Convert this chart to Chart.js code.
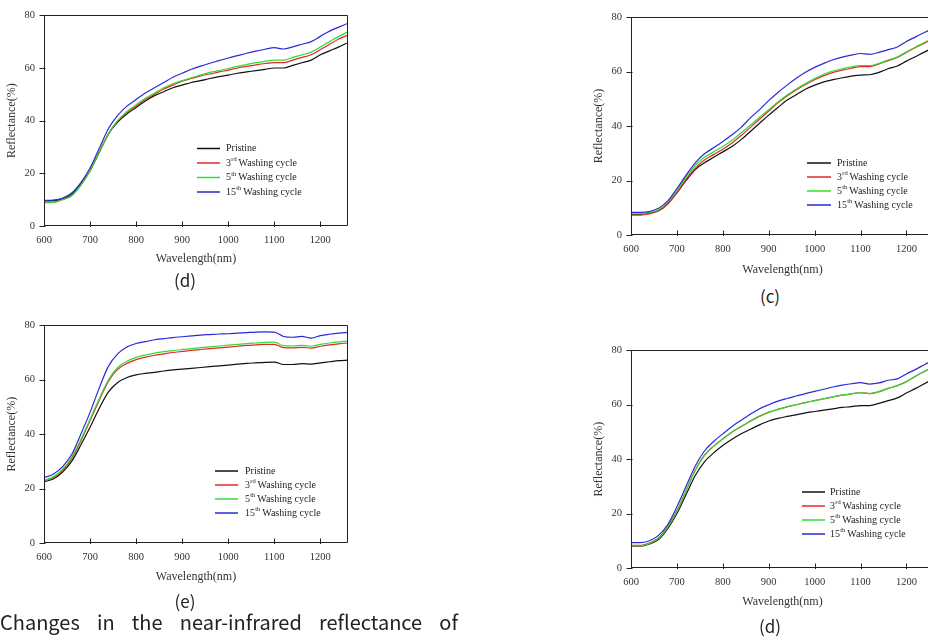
<!DOCTYPE html>
<html><head><meta charset="utf-8">
<script src="https://cdn.jsdelivr.net/npm/chart.js@4/dist/chart.umd.min.js"></script>
<style>
html,body{margin:0;padding:0;background:#fff;overflow:hidden;width:928px;height:637px;position:relative}
canvas{position:absolute}
.lab{position:absolute;font-family:"Noto Sans CJK KR","Noto Sans",sans-serif;font-size:17px;color:#222;transform:translate(-50%,-50%);line-height:1;white-space:nowrap}
#cap{position:absolute;left:0;top:612px;width:458px;display:flex;justify-content:space-between;font-family:"Noto Sans CJK KR","Noto Sans",sans-serif;font-size:20px;line-height:20px;color:#222;white-space:nowrap}
.pre{position:absolute;left:-1000px;top:0;font-family:"Liberation Serif";font-size:10px}
</style></head><body>
<span class="pre">Reflectance 0123456789</span>
<canvas id="c1" width="360" height="270" style="left:0px;top:0px"></canvas>
<canvas id="c2" width="363" height="281" style="left:587px;top:0px"></canvas>
<canvas id="c3" width="360" height="278" style="left:0px;top:310px"></canvas>
<canvas id="c4" width="363" height="278" style="left:587px;top:335px"></canvas>
<div class="lab" style="left:185px;top:279px">(d)</div>
<div class="lab" style="left:770px;top:295px">(c)</div>
<div class="lab" style="left:185px;top:600px">(e)</div>
<div class="lab" style="left:770px;top:625px">(d)</div>
<div id="cap"><span>Changes</span><span>in</span><span>the</span><span>near-infrared</span><span>reflectance</span><span>of</span></div>
<script>
// ---- data ----
const wavelengths = [600,620,640,660,680,700,720,740,760,780,800,820,840,860,880,900,920,940,960,980,1000,1020,1040,1060,1080,1100,1120,1140,1160,1180,1200,1220,1240,1260];
const seriesLabels = ["Pristine","3rd Washing cycle","5th Washing cycle","15th Washing cycle"];
const xTicks = [600,700,800,900,1000,1100,1200];
const yTicks = [0,20,40,60,80];
const panelTitles = ["(d)","(c)","(e)","(d)"];

// top-left panel (d)
const tlPristine = [9.5,9.6,10.3,12,16,21,28,35,39.5,42.5,45,47.5,49.5,51,52.5,53.5,54.5,55.2,56,56.7,57.3,58,58.5,59,59.5,60,60,61,62,63,65,66.5,68,69.7];
const tlWash3 = [9,9,10,11.5,15.5,21,28,35,40,43,45.5,48,50,52,53.5,55,56,57,57.7,58.5,59.2,60,60.6,61.2,61.7,62,62,63,64,65,67,69,71,72.5];
const tlWash5 = [8.8,9,10,11.5,15.5,21,28,35,40,43.5,46,48.5,50.5,52.5,54,55.2,56.3,57.3,58.3,59,59.8,60.6,61.3,62,62.5,63,63,64,65,66,68,70,72,73.7];
const tlWash15 = [9.7,9.8,10.5,12.5,16.5,22,29.5,37,42,45.5,48,50.5,52.5,54.5,56.5,58,59.5,60.7,61.8,62.8,63.8,64.7,65.6,66.4,67.1,67.7,67.2,68,69,70,72,74,75.5,77];

// top-right panel (c)
const trPristine = [7.5,7.6,8,9,11.5,15.5,20,24,26.5,28.5,30.5,32.5,35,38,41,44,46.8,49.5,51.5,53.5,55,56.2,57,57.7,58.3,58.7,58.8,59.7,61,62,63.8,65.5,67.2,69];
const trWash3 = [7.3,7.3,7.7,8.8,11.3,15.5,20.5,24.5,27.5,29.5,31.5,33.8,36.5,39.5,42.5,45.5,48.5,51,53.2,55.2,57,58.5,59.7,60.5,61.2,61.8,61.8,62.8,64,65.2,67,68.8,70.5,72.2];
const trWash5 = [7.8,7.8,8.2,9.3,12,16.3,21.3,25.5,28.5,30.5,32.5,34.8,37.5,40.3,43.2,46,48.8,51.4,53.6,55.6,57.4,59,60.2,61,61.7,62.2,62.2,63,64.2,65.3,67.2,69,70.7,72.5];
const trWash15 = [8.3,8.3,8.6,9.8,12.5,17,22,26.5,29.8,32,34.3,36.8,39.5,43,46,49.3,52.3,55,57.5,59.7,61.5,63,64.3,65.3,66,66.6,66.3,67,68,69,71,72.7,74.4,76];

// bottom-left panel (e)
const blPristine = [22.5,23.5,26,30,36,42.5,49.5,55.5,59,60.8,61.8,62.3,62.7,63.2,63.6,63.9,64.2,64.5,64.8,65.1,65.4,65.7,66,66.2,66.4,66.5,65.6,65.6,65.9,65.7,66.2,66.6,67,67.2];
const blWash3 = [22.8,24,26.5,31,37.5,45,52.5,59.5,63.8,66,67.4,68.3,69,69.5,70,70.4,70.8,71.1,71.4,71.7,72,72.3,72.6,72.8,73,73,71.8,71.7,71.9,71.6,72.3,72.8,73.2,73.5];
const blWash5 = [23,24.3,27,31.5,38,45.5,53,60,64.5,66.8,68.2,69.1,69.8,70.3,70.7,71.1,71.4,71.8,72.1,72.4,72.7,73,73.3,73.5,73.7,73.8,72.5,72.4,72.6,72.3,73,73.5,73.9,74.2];
const blWash15 = [24,25.3,28,32.5,40,48,57,65,69.5,72,73.3,74,74.7,75.1,75.5,75.8,76.1,76.4,76.6,76.8,76.9,77.1,77.3,77.5,77.6,77.5,75.9,75.6,75.9,75.3,76.2,76.7,77.1,77.4];

// bottom-right panel (d)
const brPristine = [8,8,8.8,10.5,14.5,20,27,34,39,42.3,45,47.3,49.3,51,52.6,54,55,55.7,56.3,57,57.5,58,58.5,59,59.3,59.7,59.7,60.5,61.5,62.5,64.3,66,67.8,69.5];
const brWash3 = [8.3,8.3,9.2,11,15.3,21,28.5,36,41.5,44.8,47.5,50,52,54,55.8,57.3,58.3,59.2,60,60.8,61.5,62.2,62.9,63.5,64,64.4,64.1,64.8,66,67,68.5,70.5,72.3,74];
const brWash5 = [8.1,8.1,9,10.8,15,20.8,28.3,35.8,41.3,44.7,47.4,49.9,51.9,53.9,55.7,57.2,58.3,59.2,60,60.8,61.5,62.2,62.9,63.5,64,64.4,64.1,64.8,66,67,68.5,70.5,72.3,74];
const brWash15 = [9.3,9.3,10,12,16,22.5,30,37.5,43,46.5,49.3,52,54.3,56.5,58.5,60,61.3,62.3,63.2,64.1,64.9,65.7,66.5,67.2,67.7,68.1,67.6,68,69,69.5,71.3,73,74.8,76.5];

const colors = ['#111111','#e02a2a','#30dd30','#2a2ad8'];
const serif = "'Liberation Serif', 'Times New Roman', serif";

const framePlugin = {
  id: 'frame',
  afterDatasetsDraw(chart, args, opts) {
    const {ctx, chartArea: a, scales} = chart;
    ctx.save();
    ctx.strokeStyle = '#222';
    ctx.lineWidth = 1;
    const L = Math.round(a.left) + 0.5, R = Math.round(a.right) - 0.5;
    const T = Math.round(a.top) + 0.5, B = Math.round(a.bottom) - 0.5;
    ctx.beginPath();
    ctx.moveTo(L, T); ctx.lineTo(R, T); ctx.lineTo(R, B); ctx.lineTo(L, B); ctx.closePath();
    ctx.stroke();
    ctx.beginPath();
    scales.x.ticks.forEach(t => {
      const px = Math.round(scales.x.getPixelForValue(t.value)) + 0.5;
      ctx.moveTo(px, B + 1.5); ctx.lineTo(px, B - 4);
    });
    scales.y.ticks.forEach(t => {
      const py = Math.round(scales.y.getPixelForValue(t.value)) + 0.5;
      ctx.moveTo(L - 5, py); ctx.lineTo(L + 1, py);
    });
    ctx.stroke();
    const lg = opts.legend;
    if (lg) {
      chart.data.datasets.forEach((ds, i) => {
        const y = lg.ys[i] - lg.top;
        ctx.strokeStyle = ds.borderColor;
        ctx.lineWidth = 1.5;
        ctx.beginPath();
        ctx.moveTo(lg.lx0 - lg.left, y); ctx.lineTo(lg.lx1 - lg.left, y);
        ctx.stroke();
        ctx.fillStyle = '#222';
        ctx.textBaseline = 'middle';
        ctx.textAlign = 'left';
        let x = lg.tx - lg.left;
        const m = ds.label.match(/^(\d+)(st|nd|rd|th) (.*)$/);
        if (m) {
          ctx.font = '10px ' + serif;
          ctx.fillText(m[1], x, y); x += ctx.measureText(m[1]).width;
          ctx.font = '6.5px ' + serif;
          ctx.fillText(m[2], x + 0.3, y - 3.5); x += ctx.measureText(m[2]).width + 2.2;
          ctx.font = '10px ' + serif;
          ctx.fillText(m[3], x, y);
        } else {
          ctx.font = '10px ' + serif;
          ctx.fillText(ds.label, x, y);
        }
      });
    }
    ctx.restore();
  }
};

function makePanel(id, geo, series, legend) {
  const datasets = series.map((s, i) => ({
    label: seriesLabels[i],
    data: wavelengths.map((w, j) => ({x: w, y: s[j]})),
    borderColor: colors[i],
    borderWidth: 1.2,
    pointRadius: 0,
    cubicInterpolationMode: 'monotone',
    fill: false
  }));
  datasets.reverse();
  const yWidth = geo.l - geo.cl;
  const xHeight = geo.ct + geo.h - geo.b;
  new Chart(document.getElementById(id), {
    type: 'line',
    data: {datasets},
    options: {
      responsive: false,
      animation: false,
      devicePixelRatio: 1,
      layout: {padding: {top: geo.t - geo.ct, right: geo.cl + geo.w - geo.r, left: 0, bottom: 0}},
      plugins: {
        legend: {display: false},
        tooltip: {enabled: false},
        frame: {legend: Object.assign({left: geo.cl, top: geo.ct}, legend)}
      },
      scales: {
        x: {
          type: 'linear', min: 600, max: 1260,
          afterBuildTicks: sc => { sc.ticks = xTicks.map(v => ({value: v})); },
          afterFit: sc => { sc.height = xHeight; },
          grid: {display: false, drawTicks: false},
          border: {display: false},
          ticks: {font: {family: serif, size: 10.5}, color: '#333', padding: 8, maxRotation: 0, autoSkip: false,
                  callback: v => String(v)},
          title: {display: true, text: 'Wavelength(nm)', font: {family: serif, size: 12}, color: '#333', padding: {top: 4, bottom: 4}}
        },
        y: {
          type: 'linear', min: 0, max: 80,
          afterBuildTicks: sc => { sc.ticks = yTicks.map(v => ({value: v})); },
          afterFit: sc => { sc.width = yWidth; },
          grid: {display: false, drawTicks: false},
          border: {display: false},
          ticks: {font: {family: serif, size: 10.5}, color: '#333', padding: 9, callback: v => String(v)},
          title: {display: true, text: 'Reflectance(%)', font: {family: serif, size: 12}, color: '#333', padding: {top: 5, bottom: 4}}
        }
      }
    },
    plugins: [framePlugin]
  });
}

function lgYs(ys) { return ys.slice().reverse(); }

function drawAll() {
  makePanel('c1', {cl: 0, ct: 0, w: 360, h: 270, l: 44, r: 348, t: 7, b: 226},
    [tlPristine, tlWash3, tlWash5, tlWash15], {lx0: 197, lx1: 220, tx: 226, ys: lgYs([148.5, 163, 177.5, 192])});
  makePanel('c2', {cl: 587, ct: 0, w: 363, h: 281, l: 631, r: 934, t: 17, b: 235},
    [trPristine, trWash3, trWash5, trWash15], {lx0: 807, lx1: 831, tx: 837, ys: lgYs([163, 177, 191, 205])});
  makePanel('c3', {cl: 0, ct: 310, w: 360, h: 278, l: 44, r: 348, t: 325, b: 543},
    [blPristine, blWash3, blWash5, blWash15], {lx0: 215, lx1: 238, tx: 245, ys: lgYs([471, 485, 499, 513])});
  makePanel('c4', {cl: 587, ct: 335, w: 363, h: 278, l: 631, r: 934, t: 349, b: 568},
    [brPristine, brWash3, brWash5, brWash15], {lx0: 802, lx1: 825, tx: 830, ys: lgYs([492, 506, 520, 534])});
}

if (document.fonts && document.fonts.load) {
  Promise.all([
    document.fonts.load("10px 'Liberation Serif'"),
    document.fonts.load("17px 'Noto Sans CJK KR'")
  ]).then(drawAll, drawAll);
} else {
  drawAll();
}
</script>
</body></html>
